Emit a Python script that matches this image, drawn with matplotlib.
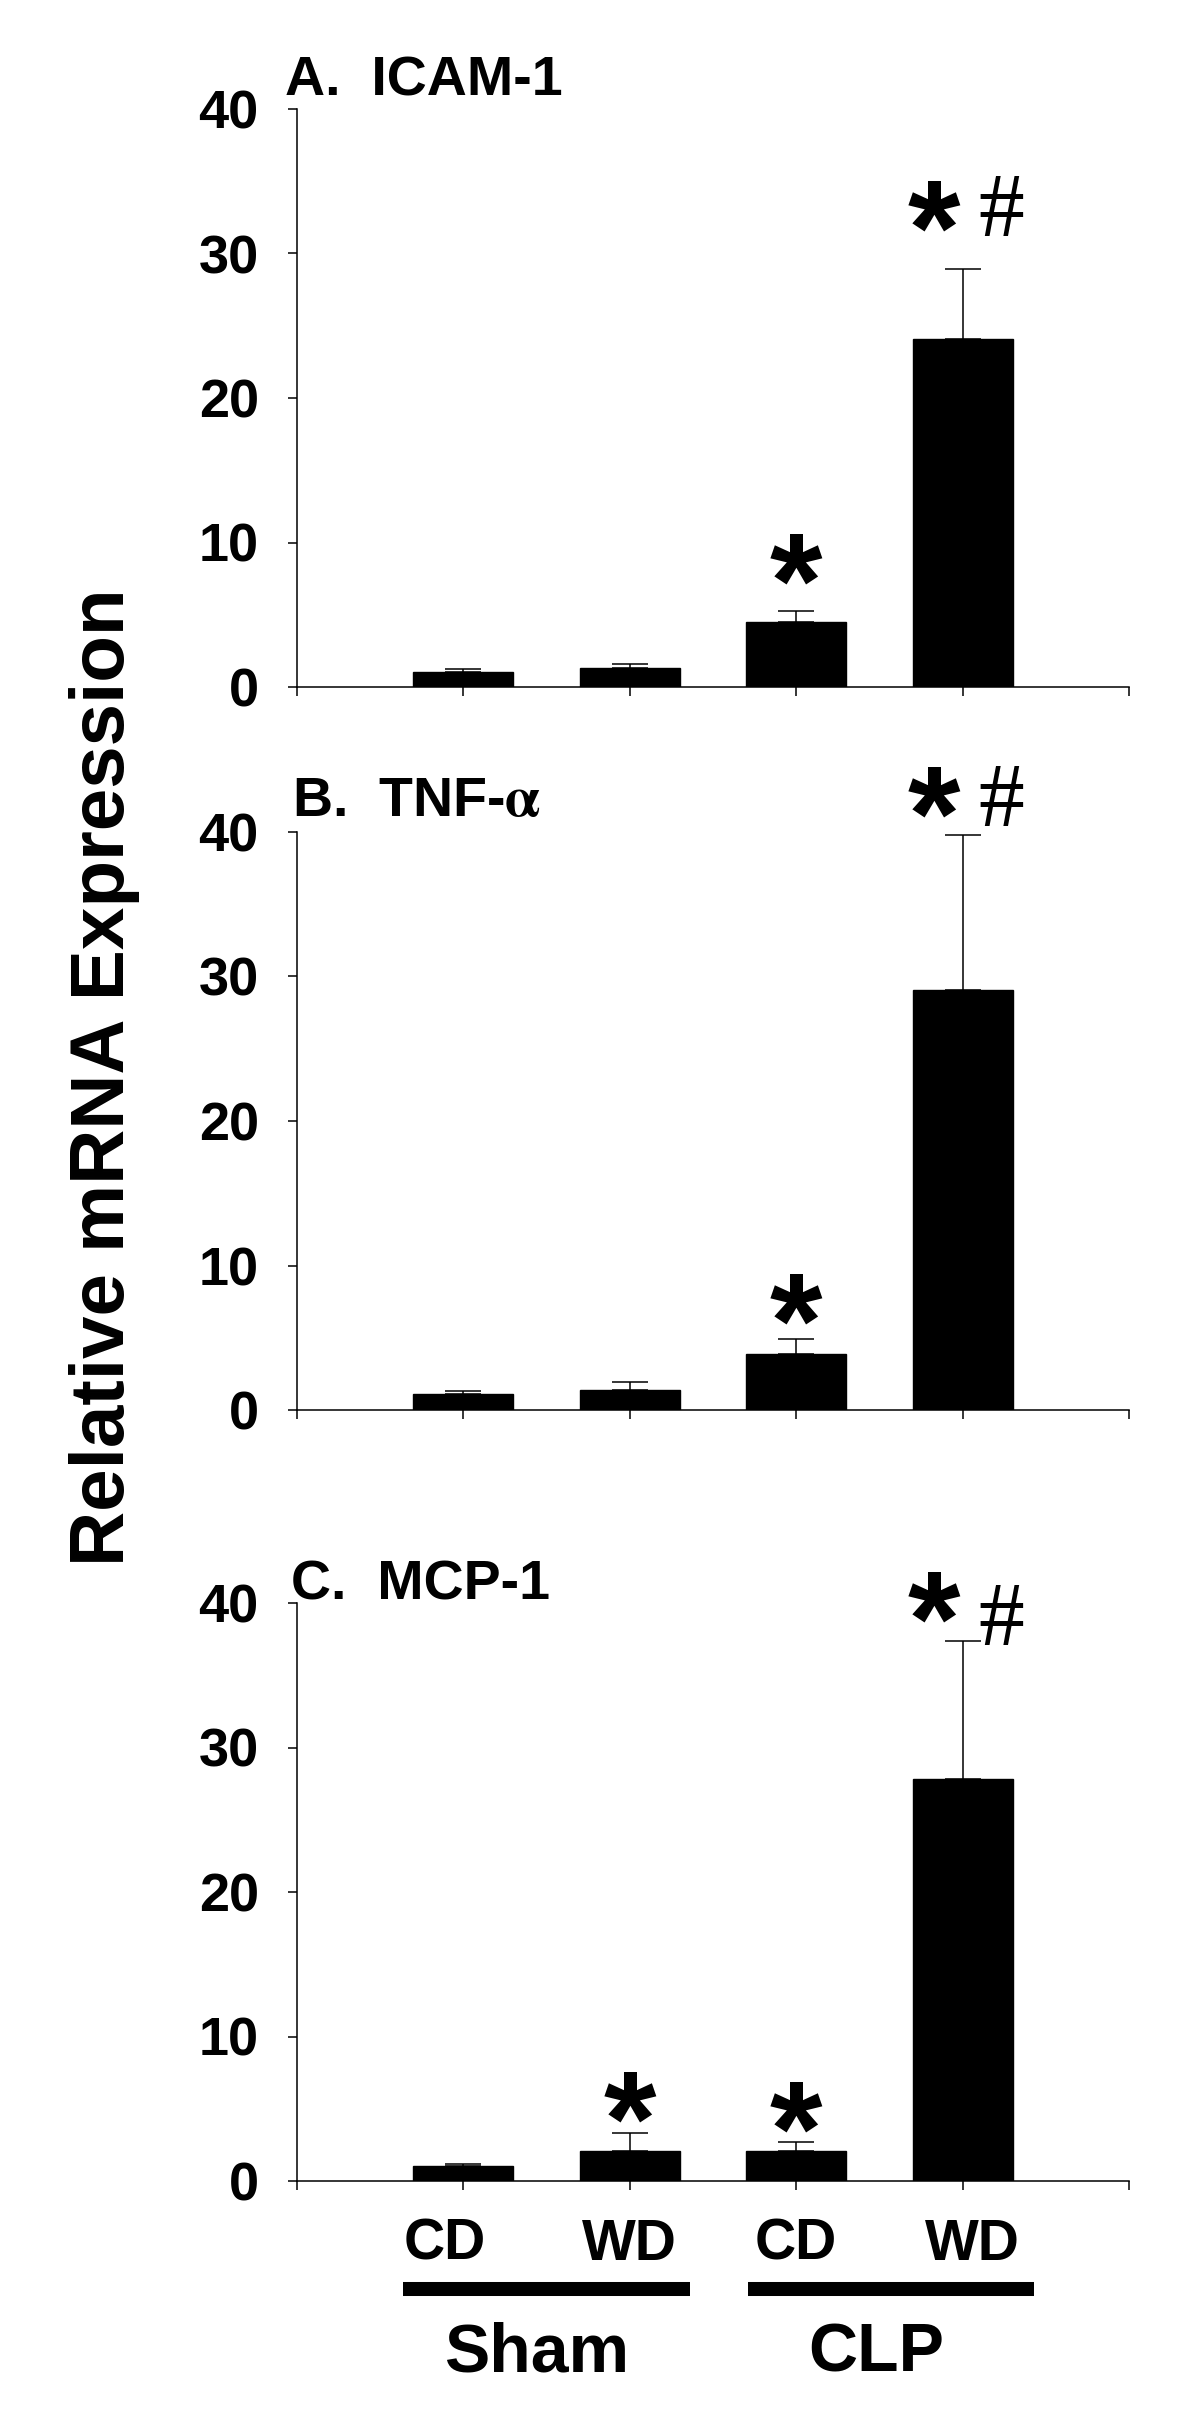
import matplotlib
matplotlib.use("Agg")
import matplotlib.pyplot as plt
from matplotlib.transforms import blended_transform_factory, ScaledTranslation

plt.rcParams['font.family'] = ['Liberation Sans', 'DejaVu Sans']
plt.rcParams['font.weight'] = 'bold'
plt.rcParams['mathtext.fontset'] = 'stix'

# ---------------- data ----------------
diets = ['CD', 'WD', 'CD', 'WD']
groups = ['Sham', 'CLP']
panel_titles = ['A.  ICAM-1', 'B.  TNF-$\\mathrm{\\alpha}$', 'C.  MCP-1']
yticks = [0, 10, 20, 30, 40]

icam_mean = [1.07, 1.29, 4.5, 24.1]
icam_err = [0.15, 0.29, 0.76, 4.8]
tnf_mean = [1.08, 1.40, 3.87, 29.1]
tnf_err = [0.26, 0.51, 1.05, 10.7]
mcp_mean = [1.05, 2.1, 2.1, 27.85]
mcp_err = [0.1, 1.2, 0.6, 9.55]

# significance marks: (bar index, text)
icam_sig = [(2, '*'), (3, '*#')]
tnf_sig = [(2, '*'), (3, '*#')]
mcp_sig = [(1, '*'), (2, '*'), (3, '*#')]

# ---------------- layout ----------------
W, H = 1200, 2427
fig = plt.figure(figsize=(W / 100, H / 100), dpi=100)

left_px, right_px = 297, 1129
panels_px = [(109, 687), (832, 1410), (1603, 2181)]   # (top, bottom) pixel rows
title_px = [(285, 95), (292, 816), (291, 1600)]         # (x, baseline)
# star/hash centre heights in data units per panel
star_y = [[8.65, 33.1], [7.5, 42.6], [5.6, 4.9, 40.2]]
hash_y = [32.9, 42.1, 38.8]

means = [icam_mean, tnf_mean, mcp_mean]
errs = [icam_err, tnf_err, mcp_err]
sigs = [icam_sig, tnf_sig, mcp_sig]

x = [1, 2, 3, 4]
STAR_SIZE = 97
HASH_SIZE = 66
STAR_OFF = 0.48
HASH_OFF = 0.27

axes = []
for i in range(3):
    top, bot = panels_px[i]
    ax = fig.add_axes([left_px / W, 1 - bot / H, (right_px - left_px) / W, (bot - top) / H])
    axes.append(ax)
    ax.bar(x, means[i], width=0.6, color='black', edgecolor='black', zorder=2)
    ax.errorbar(x, means[i], yerr=[[0] * 4, errs[i]], fmt='none', ecolor='black',
                elinewidth=1.1, capsize=13, capthick=1.1, zorder=1)
    ax.set_xlim(0, 5)
    ax.set_ylim(0, 40)
    ax.set_yticks(yticks)
    ax.set_xticks([0, 1, 2, 3, 4, 5])
    ax.set_xticklabels([])
    ax.spines['top'].set_visible(False)
    ax.spines['right'].set_visible(False)
    for s in ('left', 'bottom'):
        ax.spines[s].set_linewidth(1.1)
    ax.tick_params(axis='y', direction='out', length=6.5, width=1.1, pad=21,
                   labelsize=39)
    ax.tick_params(axis='x', direction='out', length=6.5, width=1.1)
    for lab in ax.get_yticklabels():
        lab.set_fontweight('bold')

    tx, tb = title_px[i]
    fig.text(tx / W, 1 - tb / H, panel_titles[i], fontsize=40, fontweight='bold',
             ha='left', va='baseline')

    # significance marks
    k = 0
    for (bi, txt) in sigs[i]:
        sy = star_y[i][k]
        k += 1
        tr = ax.transData + ScaledTranslation(0, -STAR_OFF * STAR_SIZE / 72, fig.dpi_scale_trans)
        if txt == '*':
            ax.text(x[bi], sy, '*', fontsize=STAR_SIZE, fontweight='bold', ha='center',
                    va='baseline', transform=tr)
        else:
            ax.text(x[bi] - 0.17, sy, '*', fontsize=STAR_SIZE, fontweight='bold',
                    ha='center', va='baseline', transform=tr)
            tr2 = ax.transData + ScaledTranslation(0, -HASH_OFF * HASH_SIZE / 72, fig.dpi_scale_trans)
            ax.text(x[bi] + 0.23, hash_y[i], '#', fontsize=HASH_SIZE, fontweight='normal',
                    family='Liberation Serif', ha='center', va='baseline', transform=tr2)

# bottom group labels on last axis
axc = axes[2]
btr = blended_transform_factory(axc.transData, fig.transFigure)
diet_x = [0.89, 2.0, 3.0, 4.06]
for dx, d in zip(diet_x, diets):
    axc.text(dx, 1 - 2260 / H, d, fontsize=41, fontweight='bold', ha='center',
             va='baseline', transform=btr, clip_on=False)
group_spans = [(0.64, 2.36), (2.71, 4.43)]
group_x = [1.44, 3.48]
for (a, b), gx, g in zip(group_spans, group_x, groups):
    axc.plot([a, b], [1 - 2289 / H] * 2, color='black', lw=10.1, solid_capstyle='butt',
             transform=btr, clip_on=False)
    axc.text(gx, 1 - 2372 / H, g, fontsize=49, fontweight='bold', ha='center',
             va='baseline', transform=btr, clip_on=False)

fig.text(69 / W, 1 - 1077 / H, 'Relative mRNA Expression', rotation=90, fontsize=55,
         fontweight='bold', ha='left', va='center')

fig.savefig('out.png', dpi=100, facecolor='white')
